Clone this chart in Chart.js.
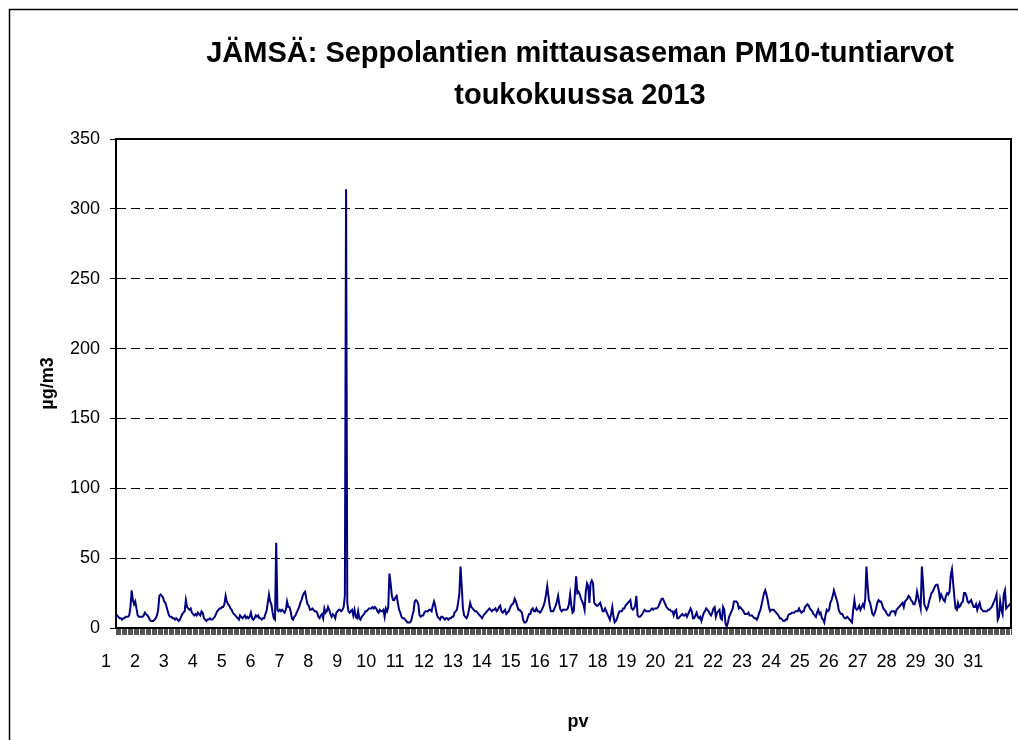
<!DOCTYPE html>
<html lang="fi">
<head>
<meta charset="utf-8">
<title>JÄMSÄ: Seppolantien PM10-tuntiarvot toukokuussa 2013</title>
<script src="https://cdn.jsdelivr.net/npm/chart.js@4.4.1/dist/chart.umd.min.js"></script>
<style>
    html, body { margin: 0; padding: 0; background: #fff; overflow: hidden; }
    #kaavio { display: block; }
</style>
</head>
<body>
<canvas id="kaavio" width="1018" height="740"></canvas>
<script>
/**
 * PM10-tuntiarvot (µg/m3), toukokuu 2013, 24 arvoa / päivä
 */

// Otsikko ja akselit
const otsikko = ['JÄMSÄ: Seppolantien mittausaseman PM10-tuntiarvot', 'toukokuussa 2013'];
const yOtsikko = 'µg/m3';
const xOtsikko = 'pv';
const paivat = ['1', '2', '3', '4', '5', '6', '7', '8', '9', '10', '11', '12', '13', '14', '15', '16',
    '17', '18', '19', '20', '21', '22', '23', '24', '25', '26', '27', '28', '29', '30', '31'];
const yArvot = [0, 50, 100, 150, 200, 250, 300, 350];

// Tuntiarvot päivittäin
const pv01 = [8, 9, 8, 7, 7, 6, 7, 7, 8, 8, 8, 9, 15, 27, 20, 17, 19, 14, 9, 8, 8, 8, 8, 9];
const pv02 = [11, 10, 9, 8, 6, 5, 5, 5, 6, 7, 9, 13, 23, 24, 23, 22, 19, 18, 15, 12, 9, 8, 8, 7];
const pv03 = [7, 6, 7, 6, 5, 6, 8, 10, 11, 12, 20, 15, 14, 13, 14, 11, 10, 9, 10, 9, 11, 10, 9, 12];
const pv04 = [11, 7, 6, 5, 6, 6, 7, 6, 6, 7, 8, 10, 12, 13, 14, 14, 15, 15, 17, 23, 19, 17, 16, 14];
const pv05 = [13, 11, 10, 9, 8, 7, 6, 9, 8, 7, 8, 9, 7, 8, 7, 8, 11, 7, 6, 7, 9, 8, 9, 7];
const pv06 = [7, 6, 7, 7, 10, 12, 18, 24, 19, 17, 11, 7, 6, 61, 13, 12, 13, 12, 13, 12, 11, 13, 19, 15];
const pv07 = [15, 12, 7, 6, 8, 9, 11, 13, 15, 18, 20, 23, 25, 26, 21, 17, 16, 13, 13, 14, 13, 12, 12, 11];
const pv08 = [8, 7, 9, 10, 7, 14, 11, 12, 15, 13, 10, 8, 10, 9, 7, 11, 12, 13, 13, 12, 13, 15, 23, 314];
const pv09 = [18, 12, 11, 12, 13, 9, 13, 8, 7, 12, 7, 6, 8, 9, 10, 12, 12, 13, 14, 14, 14, 15, 14, 15];
const pv10 = [14, 12, 11, 13, 12, 12, 13, 8, 14, 12, 15, 39, 32, 23, 20, 20, 22, 23, 18, 13, 11, 8, 7, 7];
const pv11 = [6, 5, 4, 4, 4, 5, 9, 12, 19, 20, 19, 17, 9, 8, 9, 9, 11, 12, 12, 12, 13, 13, 12, 16];
const pv12 = [19, 16, 11, 8, 7, 6, 8, 8, 7, 6, 7, 7, 6, 7, 7, 8, 8, 11, 12, 13, 18, 24, 44, 30];
const pv13 = [14, 9, 8, 7, 9, 13, 18, 15, 14, 13, 12, 12, 11, 10, 9, 8, 7, 9, 10, 11, 12, 13, 14, 13];
const pv14 = [12, 13, 13, 14, 12, 13, 15, 16, 12, 11, 12, 13, 10, 11, 12, 14, 16, 17, 18, 21, 19, 16, 13, 13];
const pv15 = [12, 11, 6, 4, 4, 5, 8, 10, 10, 13, 14, 12, 12, 14, 12, 12, 11, 12, 14, 16, 19, 24, 30, 23];
const pv16 = [16, 12, 12, 12, 14, 16, 19, 23, 17, 13, 12, 13, 13, 13, 13, 14, 17, 24, 16, 11, 12, 25, 37, 25];
const pv17 = [26, 24, 21, 19, 17, 13, 26, 32, 30, 18, 32, 34, 32, 18, 17, 16, 16, 17, 18, 15, 12, 12, 14, 12];
const pv18 = [10, 8, 6, 10, 15, 8, 4, 5, 7, 10, 12, 12, 12, 14, 14, 16, 17, 18, 19, 20, 14, 13, 14, 16];
const pv19 = [23, 9, 8, 8, 9, 10, 12, 13, 12, 12, 12, 12, 13, 14, 13, 14, 14, 14, 15, 17, 19, 21, 21, 19];
const pv20 = [17, 15, 14, 13, 13, 12, 12, 9, 12, 13, 7, 7, 8, 9, 10, 9, 9, 10, 8, 10, 12, 14, 12, 7];
const pv21 = [7, 9, 11, 8, 7, 8, 5, 8, 11, 12, 14, 13, 12, 10, 9, 11, 14, 15, 8, 11, 12, 13, 7, 6];
const pv22 = [15, 13, 3, 1, 4, 8, 10, 12, 14, 19, 19, 19, 18, 14, 15, 14, 13, 12, 10, 10, 10, 11, 9, 9];
const pv23 = [9, 8, 7, 7, 6, 8, 11, 13, 17, 21, 25, 27, 24, 20, 15, 12, 13, 13, 13, 12, 11, 10, 9, 7];
const pv24 = [7, 6, 5, 5, 6, 6, 9, 10, 10, 11, 11, 11, 12, 12, 12, 14, 12, 11, 12, 12, 15, 16, 17, 16];
const pv25 = [14, 13, 12, 10, 9, 8, 11, 13, 10, 11, 7, 6, 4, 9, 13, 12, 13, 18, 20, 23, 27, 24, 21, 18];
const pv26 = [13, 11, 10, 10, 8, 7, 7, 8, 7, 6, 5, 4, 13, 20, 14, 13, 14, 16, 13, 15, 17, 15, 21, 44];
const pv27 = [30, 20, 18, 14, 10, 9, 11, 14, 18, 20, 19, 19, 17, 14, 13, 12, 10, 9, 9, 11, 12, 12, 12, 10];
const pv28 = [13, 14, 15, 16, 17, 18, 15, 19, 20, 21, 23, 22, 20, 19, 17, 17, 20, 26, 22, 18, 14, 44, 32, 17];
const pv29 = [15, 13, 15, 19, 22, 25, 26, 28, 30, 31, 31, 27, 21, 24, 22, 20, 19, 23, 25, 24, 26, 38, 42, 32];
const pv30 = [22, 14, 13, 18, 15, 16, 18, 19, 25, 25, 23, 19, 18, 19, 20, 17, 15, 15, 17, 13, 16, 18, 14, 13];
const pv31 = [12, 12, 12, 12, 13, 13, 14, 15, 17, 19, 21, 24, 6, 8, 19, 13, 10, 24, 27, 14, 15, 16, 17, 17];

const fontti = "'Liberation Sans', Arial, sans-serif";

document.addEventListener('DOMContentLoaded', function() {
    const arvot = [].concat(pv01, pv02, pv03, pv04, pv05, pv06, pv07, pv08, pv09, pv10,
        pv11, pv12, pv13, pv14, pv15, pv16, pv17, pv18, pv19, pv20,
        pv21, pv22, pv23, pv24, pv25, pv26, pv27, pv28, pv29, pv30, pv31);

    // Päivän numero vain vuorokauden ensimmäiselle tunnille
    const kategoriat = arvot.map(function(v, i) {
        return i % 24 === 0 ? paivat[i / 24] : '';
    });

    // Otsikko, x-akselin nimi ja kehykset
    const kehys = {
        id: 'kehys',
        afterDraw: function(chart) {
            const c = chart.ctx;
            const a = chart.chartArea;
            c.save();
            c.strokeStyle = '#000';
            c.lineWidth = 1.5;
            c.beginPath();
            c.moveTo(9.5, 740);
            c.lineTo(9.5, 9.5);
            c.lineTo(1018, 9.5);
            c.stroke();

            c.lineWidth = 2;
            c.beginPath();
            c.moveTo(a.left, a.top);
            c.lineTo(a.right, a.top);
            c.lineTo(a.right, a.bottom);
            c.stroke();

            c.fillStyle = '#000';
            c.textAlign = 'center';
            c.textBaseline = 'middle';
            c.font = 'bold 29px ' + fontti;
            c.fillText(otsikko[0], 580, 54);
            c.fillText(otsikko[1], 580, 96);
            c.font = 'bold 18px ' + fontti;
            c.fillText(xOtsikko, 578, 722);
            c.restore();
        }
    };

    Chart.defaults.font.family = fontti;

    new Chart(document.getElementById('kaavio'), {
        type: 'line',
        data: {
            labels: kategoriat,
            datasets: [{
                label: 'PM10',
                data: arvot,
                borderColor: '#000080',
                borderWidth: 2,
                pointRadius: 0,
                tension: 0,
                fill: false
            }]
        },
        options: {
            responsive: false,
            animation: false,
            devicePixelRatio: 1,
            layout: {
                padding: { left: 10, right: 7, top: 139, bottom: 12 }
            },
            scales: {
                x: {
                    afterFit: function(scale) {
                        scale.height = 100;
                        scale.paddingLeft = 0;
                        scale.paddingRight = 0;
                    },
                    grid: {
                        drawOnChartArea: false,
                        drawTicks: true,
                        tickLength: 7,
                        tickColor: '#555',
                        lineWidth: 1
                    },
                    border: { color: '#000', width: 2 },
                    ticks: {
                        autoSkip: false,
                        maxRotation: 0,
                        minRotation: 0,
                        color: '#000',
                        font: { size: 18 },
                        padding: 16,
                        labelOffset: -10
                    }
                },
                y: {
                    min: 0,
                    max: 350,
                    afterBuildTicks: function(scale) {
                        scale.ticks = yArvot.map(function(v) { return { value: v }; });
                    },
                    afterFit: function(scale) { scale.width = 106; },
                    grid: {
                        color: function(ctx) {
                            const v = ctx.tick ? ctx.tick.value : null;
                            return (v === 0 || v === 350) ? 'rgba(0,0,0,0)' : '#000';
                        },
                        tickColor: '#000',
                        tickLength: 6,
                        lineWidth: 1
                    },
                    border: { display: true, color: '#000', width: 2, dash: [9, 5] },
                    ticks: {
                        color: '#000',
                        font: { size: 18 },
                        padding: 10
                    },
                    title: {
                        display: true,
                        text: yOtsikko,
                        color: '#000',
                        font: { size: 18, weight: 'bold' },
                        padding: { top: 27, bottom: 0 }
                    }
                }
            },
            plugins: {
                legend: { display: false },
                tooltip: { enabled: false },
                title: { display: false }
            }
        },
        plugins: [kehys]
    });
});
</script>
</body>
</html>
